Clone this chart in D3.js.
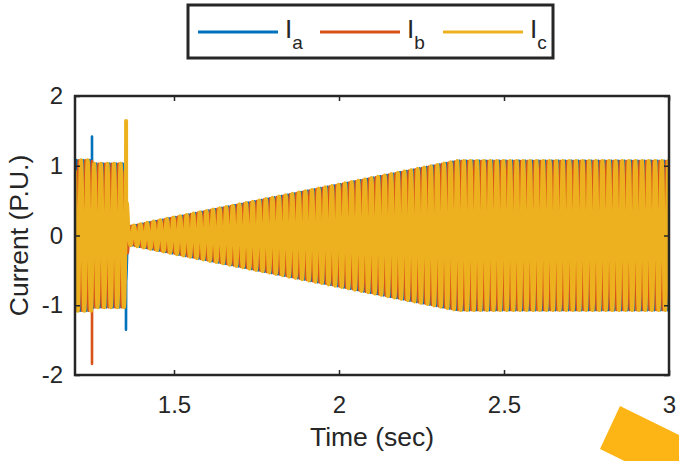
<!DOCTYPE html>
<html>
<head>
<meta charset="utf-8">
<script src="https://cdn.jsdelivr.net/npm/d3@7"></script>
<style>
  html, body { margin: 0; padding: 0; background: #fff; }
  svg { display: block; font-family: "Liberation Sans", Arial, Helvetica, sans-serif; }
</style>
</head>
<body>
<svg id="chart" width="679" height="461"></svg>
<script>
// ---- data ----
const seriesNames = ["a", "b", "c"];
const seriesColors = ["#0072BD", "#D95319", "#EDB120"];
const phaseShiftsDeg = [0, -120, 120];
const frequencyHz = 50;
// amplitude envelope (P.U.) vs time (sec)
const envelopeTimes = [1.2, 1.25, 1.256, 1.35, 1.362, 1.375, 2.36, 3.0];
const envelopeAmps  = [1.08, 1.08, 1.03, 1.03, 0.14, 0.14, 1.07, 1.07];
// transient spikes
const spikeSeries = ["a", "b", "a", "c"];
const spikeTimes  = [1.2515, 1.2515, 1.3545, 1.3548];
const spikeValues = [1.42, -1.84, -1.35, 1.64];
const xTicks = [1.5, 2, 2.5, 3];
const yTicks = [-2, -1, 0, 1, 2];
const xDomain = [1.2, 3.0];
const yDomain = [-2, 2];

(function () {
// ---- layout ----
const svg = d3.select("#chart");
const pL = 75, pR = 669, pT = 96, pB = 375;
const x = d3.scaleLinear().domain(xDomain).range([pL, pR]);
const y = d3.scaleLinear().domain(yDomain).range([pB, pT]);
const env = d3.scaleLinear().domain(envelopeTimes).range(envelopeAmps).clamp(true);

const samplesPerCycle = 40;
const dt = 1 / (frequencyHz * samplesPerCycle);
const times = d3.range(xDomain[0], xDomain[1] + dt / 2, dt);

const series = seriesNames.map((name, i) => {
  const ph = phaseShiftsDeg[i] * Math.PI / 180;
  const pts = times.map(t => ({ t, v: env(t) * Math.sin(2 * Math.PI * frequencyHz * t + ph) }));
  spikeSeries.forEach((s, k) => {
    if (s === name) pts.push({ t: spikeTimes[k], v: spikeValues[k] });
  });
  pts.sort((p, q) => p.t - q.t);
  return { name, color: seriesColors[i], pts };
});

svg.append("defs").append("clipPath").attr("id", "clip")
  .append("rect").attr("x", pL).attr("y", pT).attr("width", pR - pL).attr("height", pB - pT);

const widths = [2.6, 2.6, 4];
const line = d3.line().x(d => x(d.t)).y(d => y(d.v));
const g = svg.append("g").attr("clip-path", "url(#clip)");
series.forEach((s, i) => {
  g.append("path").attr("d", line(s.pts)).attr("fill", "none")
    .attr("stroke", s.color).attr("stroke-width", widths[i]).attr("stroke-linejoin", "round");
});

// ---- axes ----
const axisColor = "#262626";
const fs = "24px";
const styleAxis = sel => {
  sel.select(".domain").remove();
  sel.selectAll(".tick line").attr("stroke", axisColor).attr("stroke-width", 1.5);
  sel.selectAll(".tick text").attr("fill", axisColor).style("font-size", fs).style("font-family", '"Liberation Sans", Arial, sans-serif');
};
svg.append("g").attr("transform", `translate(0,${pB})`)
  .call(d3.axisBottom(x).tickValues(xTicks).tickFormat(d3.format("")).tickSize(-5).tickPadding(21)).call(styleAxis);
svg.append("g").attr("transform", `translate(0,${pT})`)
  .call(d3.axisTop(x).tickValues(xTicks).tickFormat("").tickSize(-5)).call(styleAxis);
svg.append("g").attr("transform", `translate(${pL},0)`)
  .call(d3.axisLeft(y).tickValues(yTicks).tickFormat(d => String(d)).tickSize(-5).tickPadding(12)).call(styleAxis);
svg.append("g").attr("transform", `translate(${pR},0)`)
  .call(d3.axisRight(y).tickValues(yTicks).tickFormat("").tickSize(-5)).call(styleAxis);

svg.append("rect").attr("x", pL).attr("y", pT).attr("width", pR - pL).attr("height", pB - pT)
  .attr("fill", "none").attr("stroke", axisColor).attr("stroke-width", 2.5);

// axis labels
svg.append("text").attr("x", (pL + pR) / 2).attr("y", 446).attr("text-anchor", "middle")
  .attr("fill", axisColor).style("font-size", "26.5px").text("Time (sec)");
svg.append("text").attr("transform", `translate(28,${(pT + pB) / 2}) rotate(-90)`).attr("text-anchor", "middle")
  .attr("fill", axisColor).style("font-size", "26.5px").text("Current (P.U.)");

// ---- legend ----
const lg = svg.append("g");
lg.append("rect").attr("x", 188).attr("y", 5).attr("width", 365).attr("height", 53)
  .attr("fill", "#fff").attr("stroke", axisColor).attr("stroke-width", 3);
const legX = [198, 320, 443];
seriesNames.forEach((n, i) => {
  lg.append("line").attr("x1", legX[i]).attr("x2", legX[i] + 80).attr("y1", 32).attr("y2", 32)
    .attr("stroke", seriesColors[i]).attr("stroke-width", 3);
  const t = lg.append("text").attr("x", legX[i] + 87).attr("y", 38).attr("fill", axisColor).style("font-size", "26px");
  t.append("tspan").text("I");
  t.append("tspan").attr("dy", 11).style("font-size", "19px").text(n);
});

// decorative orange shape bottom-right
svg.append("polygon").attr("points", "620,406 600,449 700,498 720,455").attr("fill", "#FDB515");
})();
</script>
</body>
</html>
